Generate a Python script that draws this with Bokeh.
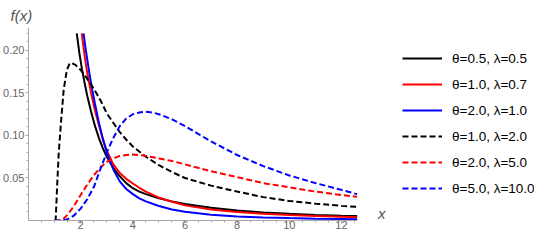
from bokeh.plotting import figure
from bokeh.models import Range1d, FixedTicker, PrintfTickFormatter, Legend, LegendItem, Label
from bokeh.embed import file_html
from bokeh.resources import INLINE

# ---- data ----
# theta=0.5, lambda=0.5 (solid black)
x_s1 = [1.85, 1.95, 2.05, 2.15, 2.25, 2.4, 2.55, 2.7, 2.85, 3.0, 3.25, 3.5, 3.75, 4.0, 4.25, 4.5, 5.0, 5.5, 6.0, 7.0, 8.0, 9.0, 10.0, 11.0, 12.0, 12.6]
y_s1 = [0.220, 0.197, 0.178, 0.162, 0.147, 0.128, 0.111, 0.097, 0.085, 0.075, 0.062, 0.052, 0.044, 0.038, 0.034, 0.031, 0.026, 0.0225, 0.0195, 0.0150, 0.0118, 0.0095, 0.0078, 0.0066, 0.0057, 0.0053]
# theta=1.0, lambda=0.7 (solid red)
x_s2 = [2.04, 2.15, 2.25, 2.4, 2.55, 2.7, 2.85, 3.0, 3.25, 3.5, 3.75, 4.0, 4.25, 4.5, 5.0, 5.5, 6.0, 7.0, 8.0, 9.0, 10.0, 11.0, 12.0, 12.6]
y_s2 = [0.220, 0.194, 0.174, 0.150, 0.129, 0.112, 0.096, 0.082, 0.066, 0.056, 0.049, 0.0435, 0.0385, 0.034, 0.027, 0.022, 0.0178, 0.0130, 0.0100, 0.0080, 0.0065, 0.0054, 0.0045, 0.0038]
# theta=2.0, lambda=1.0 (solid blue)
x_s3 = [2.11, 2.2, 2.33, 2.45, 2.55, 2.7, 2.85, 3.0, 3.25, 3.5, 3.75, 4.0, 4.25, 4.5, 5.0, 5.5, 6.0, 7.0, 8.0, 9.0, 10.0, 11.0, 12.0, 12.6]
y_s3 = [0.220, 0.200, 0.174, 0.153, 0.137, 0.115, 0.096, 0.080, 0.060, 0.046, 0.037, 0.031, 0.026, 0.0225, 0.017, 0.013, 0.0102, 0.0068, 0.0048, 0.0036, 0.0028, 0.0022, 0.0017, 0.0014]
# theta=1.0, lambda=2.0 (dashed black)
x_d1 = [1.0, 1.04, 1.07, 1.10, 1.16, 1.25, 1.35, 1.47, 1.58, 1.66, 1.8, 2.0, 2.2, 2.4, 2.6, 2.8, 3.0, 3.25, 3.5, 3.75, 4.0, 4.5, 5.0, 5.5, 6.0, 7.0, 8.0, 9.0, 10.0, 11.0, 12.0, 12.6]
y_d1 = [0.0, 0.0, 0.020, 0.042, 0.080, 0.117, 0.154, 0.177, 0.185, 0.185, 0.183, 0.177, 0.169, 0.160, 0.150, 0.139, 0.126, 0.115, 0.104, 0.095, 0.087, 0.075, 0.065, 0.057, 0.050, 0.041, 0.034, 0.0275, 0.023, 0.0198, 0.0172, 0.016]
# theta=2.0, lambda=5.0 (dashed red)
x_d2 = [1.0, 1.25, 1.35, 1.5, 1.65, 1.8, 2.0, 2.25, 2.5, 2.75, 3.0, 3.25, 3.5, 3.75, 4.0, 4.25, 4.5, 5.0, 5.5, 6.0, 7.0, 8.0, 9.0, 10.0, 11.0, 12.0, 12.6]
y_d2 = [0.0, 0.0, 0.002, 0.007, 0.013, 0.020, 0.030, 0.042, 0.053, 0.062, 0.069, 0.073, 0.076, 0.077, 0.0775, 0.077, 0.076, 0.073, 0.070, 0.066, 0.058, 0.051, 0.044, 0.039, 0.034, 0.030, 0.028]
# theta=5.0, lambda=10.0 (dashed blue)
x_d3 = [1.0, 1.3, 1.45, 1.6, 1.75, 1.9, 2.0, 2.25, 2.5, 2.75, 3.0, 3.25, 3.5, 3.75, 4.0, 4.25, 4.5, 4.75, 5.0, 5.5, 6.0, 6.5, 7.0, 8.0, 9.0, 10.0, 11.0, 12.0, 12.6]
y_d3 = [0.0, 0.0, 0.001, 0.003, 0.006, 0.011, 0.014, 0.025, 0.039, 0.060, 0.080, 0.097, 0.111, 0.120, 0.125, 0.127, 0.128, 0.127, 0.125, 0.119, 0.111, 0.102, 0.093, 0.077, 0.064, 0.053, 0.044, 0.036, 0.031]

labels = ["θ=0.5, λ=0.5", "θ=1.0, λ=0.7", "θ=2.0, λ=1.0",
          "θ=1.0, λ=2.0", "θ=2.0, λ=5.0", "θ=5.0, λ=10.0"]
x_ticks = [2, 4, 6, 8, 10, 12]
y_ticks = [0.05, 0.10, 0.15, 0.20]
x_max = 12.6
y_max = 0.227

p = figure(width=534, height=231, x_range=Range1d(0, 19.4), y_range=Range1d(0, y_max),
           output_backend="svg", toolbar_location=None,
           min_border_left=0, min_border_bottom=0, min_border_top=0, min_border_right=0)
p.outline_line_color = None
p.xgrid.visible = False
p.ygrid.visible = False
p.background_fill_color = "white"

axis_col = "#a8a8a8"
lab_col = "#666666"
for ax in (p.xaxis[0], p.yaxis[0]):
    ax.axis_line_color = axis_col
    ax.major_tick_line_color = axis_col
    ax.minor_tick_line_color = axis_col
    ax.major_tick_out = 3
    ax.major_tick_in = 0
    ax.minor_tick_out = 2
    ax.minor_tick_in = 0
    ax.major_label_text_color = lab_col
    ax.major_label_text_font = "Liberation Sans"
    ax.major_label_text_font_size = "11px"
    ax.major_label_standoff = 1
    ax.axis_label_standoff = 0
p.xaxis.major_label_standoff = -3

p.xaxis.bounds = (0, x_max)
p.xaxis.ticker = FixedTicker(ticks=x_ticks, minor_ticks=[i * 0.5 for i in range(1, 26)])
p.yaxis.ticker = FixedTicker(ticks=y_ticks, minor_ticks=[i * 0.01 for i in range(1, 23)])
p.yaxis.formatter = PrintfTickFormatter(format="%.2f")

specs = [(x_s1, y_s1, "black", "solid"), (x_s2, y_s2, "#ff0000", "solid"), (x_s3, y_s3, "#0000ff", "solid"),
         (x_d1, y_d1, "black", "6 3"), (x_d2, y_d2, "#ff0000", "6 3"), (x_d3, y_d3, "#0000ff", "6 3")]
rs = []
for xs, ys, c, d in specs:
    rs.append(p.line(xs, ys, line_color=c, line_width=2, line_dash=d))

legend = Legend(items=[LegendItem(label=l, renderers=[r]) for l, r in zip(labels, rs)],
                location=(374, 22), glyph_width=40, glyph_height=20, label_height=20, spacing=6,
                label_standoff=10, label_text_font="Liberation Sans", label_text_font_size="13.5px",
                label_text_color="black", margin=0, padding=0, border_line_color=None,
                background_fill_alpha=0)
p.add_layout(legend, "center")

p.title.text = "f(x)"
p.title.align = "left"
p.title.offset = -18
p.title.standoff = 8
p.title.text_font = "Liberation Sans"
p.title.text_font_style = "italic"
p.title.text_font_size = "15px"
p.title.text_color = "#555555"

p.add_layout(Label(x=13.4, y=0.008, text="x", text_font="Liberation Sans", text_font_style="italic",
                   text_font_size="15px", text_color="#555555", text_baseline="middle"))

open("out.html", "w").write(file_html(p, INLINE))
